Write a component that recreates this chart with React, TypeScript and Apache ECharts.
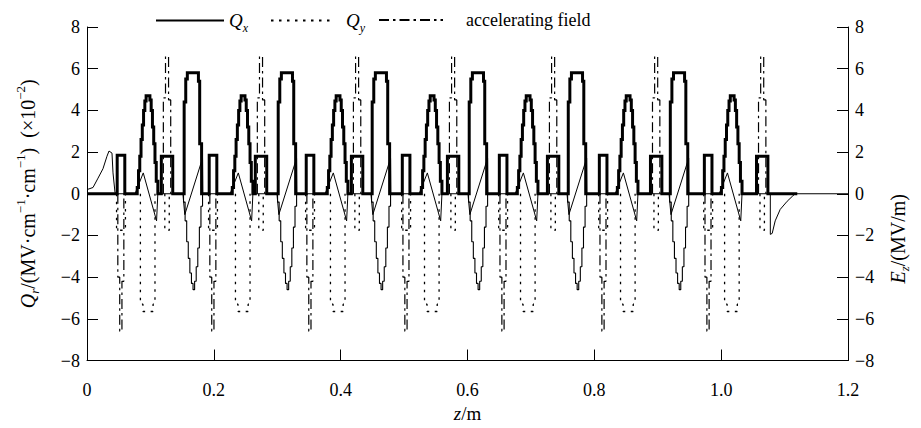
import React, { useEffect, useRef } from "react";
import * as echarts from "echarts";

const FONT = "Liberation Serif";

// axis ranges
const X_MIN = 0, X_MAX = 1.2, X_STEP = 0.2;
const Y_MIN = -8, Y_MAX = 8, Y_STEP = 2;

// centres (m) of the elements along z
const negGapZ = [0.0536, 0.1987, 0.3517, 0.5032, 0.6562, 0.8139, 0.9795];
const posGapZ = [0.1262, 0.2744, 0.4259, 0.5773, 0.735, 0.8975, 1.0647];
const bellZ = [0.0962, 0.2461, 0.3959, 0.5442, 0.6956, 0.8533, 1.0174];
const flatZ = [0.1672, 0.3155, 0.4637, 0.6167, 0.7729, 0.9338];
const qxEndZ = 1.12;

// profiles: [offset from the element centre in mm, value]
const qxBellProfile = [
  [-17, 0], [-17, 0.3], [-15, 0.3], [-15, 1.1], [-13, 1.1], [-13, 1.8], [-11, 1.8], [-11, 2.6],
  [-9, 2.6], [-9, 3.3], [-7, 3.3], [-7, 4.0], [-5, 4.0], [-5, 4.45], [-3, 4.45], [-3, 4.7],
  [3, 4.7], [3, 4.5], [5, 4.5], [5, 4.0], [7, 4.0], [7, 3.2], [9, 3.2], [9, 2.4], [11, 2.4],
  [11, 1.5], [13, 1.5], [13, 0.6], [15.5, 0.6], [15.5, 0],
];
const qxFlatProfile = [
  [-14, 0], [-14, 4.4], [-11.5, 4.4], [-11.5, 5.5], [-9, 5.5], [-9, 5.8], [8.5, 5.8], [8.5, 5.4],
  [10.5, 5.4], [10.5, 2.4], [13.5, 2.4], [13.5, 0],
];
const qxPosRectProfile = [[-9, 0], [-9, 1.8], [9, 1.8], [9, 0]];
const qxNegRectProfile = [[-6, 0], [-6, 1.85], [6, 1.85], [6, 0]];

const qyFlatProfile = [
  [-12, 0], [-12, -5.3], [-8, -5.3], [-8, -5.65], [8, -5.65], [8, -5.3], [11, -5.3], [11, 0],
];
const qyPosRectProfile = [[-3.5, 0], [-3.5, -1.75], [3.5, -1.75], [3.5, 0]];
const qyNegRectProfile = [[-7, 0], [-7, -1.75], [7, -1.75], [7, 0]];
const qyBellProfile = [
  [-15, 0], [-15, -0.4], [-12.5, -0.4], [-12.5, -1.3], [-10, -1.3], [-10, -2.3], [-7.5, -2.3],
  [-7.5, -3.1], [-5, -3.1], [-5, -3.8], [-2.5, -3.8], [-2.5, -4.3], [0, -4.3], [0, -4.6],
  [2.5, -4.6], [2.5, -4.2], [5, -4.2], [5, -3.5], [7.5, -3.5], [7.5, -2.6], [10, -2.6],
  [10, -1.6], [12.5, -1.6], [12.5, -0.6], [15, -0.6], [15, 0],
];

const ePosSpikeProfile = [
  [-5.8, 0], [-5.8, 4.6], [-2.4, 4.6], [-2.4, 6.6], [2.4, 6.6], [2.4, 4.5], [5.8, 4.5], [5.8, 0],
];
const eNegSpikeProfile = [
  [-5, 0], [-5, -4.0], [-2, -4.0], [-2, -6.6], [1.5, -6.6], [1.5, -4.2], [4.5, -4.2], [4.5, 0],
];
const eBellSideProfile = [[-20.5, 0], [-7.5, 1.0], [13.5, -1.3], [15.5, 0]];
const eFlatSideProfile = [[-16, 0], [-13, -1.0], [15, 1.7], [15.5, 0]];
// entrance and exit fringe fields: [z (m), value]
const eEntrance = [
  [0, 0.2], [0.0095, 0.3], [0.0174, 0.75], [0.0252, 1.2], [0.0315, 1.8], [0.0347, 2.05],
  [0.0394, 1.95], [0.041, 1.0], [0.0442, 0.05], [0.046, 0],
];
const eExit = [
  [1.0775, 0], [1.0775, -1.95], [1.0805, -1.9], [1.0852, -1.3], [1.0931, -0.75],
  [1.1041, -0.36], [1.112, -0.13], [1.1167, 0], [1.2, 0],
];

type Pt = [number, number | string];

function place(groups: Array<[number[], number[][]]>, gaps: boolean): Pt[] {
  const items: { c: number; p: number[][] }[] = [];
  groups.forEach(([cs, p]) => cs.forEach((c) => items.push({ c, p })));
  items.sort((a, b) => a.c - b.c);
  const out: Pt[] = [];
  items.forEach(({ c, p }) => {
    p.forEach(([d, v]) => out.push([+(c + d / 1000).toFixed(5), v]));
    if (gaps) out.push([+(c + p[p.length - 1][0] / 1000).toFixed(5), "-"]);
  });
  return out;
}

const qxData: Pt[] = [
  [0, 0],
  ...place(
    [
      [bellZ, qxBellProfile],
      [flatZ, qxFlatProfile],
      [posGapZ, qxPosRectProfile],
      [negGapZ, qxNegRectProfile],
    ],
    false
  ),
  [qxEndZ, 0],
];
const qyDotData = place(
  [
    [bellZ, qyFlatProfile],
    [posGapZ, qyPosRectProfile],
    [negGapZ, qyNegRectProfile],
  ],
  true
);
const qyBellData = place([[flatZ, qyBellProfile]], true);
const eSpikeData = place(
  [
    [posGapZ, ePosSpikeProfile],
    [negGapZ, eNegSpikeProfile],
  ],
  true
);
const eThinData: Pt[] = [
  ...(eEntrance as Pt[]),
  ...place(
    [
      [bellZ, eBellSideProfile],
      [flatZ, eFlatSideProfile],
    ],
    false
  ),
  ...(eExit as Pt[]),
];

const QX = "Qx";
const QY = "Qy";
const EF = "accelerating field";

const makeRich = (size: number, small: number) => ({
  n: { fontFamily: FONT, fontSize: size, color: "#000", lineHeight: size + 7, verticalAlign: "middle" },
  i: { fontFamily: FONT, fontSize: size, fontStyle: "italic", color: "#000", lineHeight: size + 7, verticalAlign: "middle" },
  sub: { fontFamily: FONT, fontSize: small, fontStyle: "italic", color: "#000", lineHeight: small, verticalAlign: "bottom" },
  sup: { fontFamily: FONT, fontSize: small, color: "#000", lineHeight: small, verticalAlign: "top" },
});
const rich = makeRich(19, 12);
const richTitle = makeRich(20, 13);

const fmtY = (v: number) => (v < 0 ? "\u2212" + Math.abs(v) : String(v));

const legendBase = {
  top: 6,
  itemHeight: 16,
  selectedMode: false,
  itemStyle: { color: "rgba(0,0,0,0)", borderWidth: 0, opacity: 0 },
};

export default function App() {
  const ref = useRef<HTMLDivElement>(null);
  useEffect(() => {
    if (!ref.current) return;
    const chart = echarts.init(ref.current, undefined, { renderer: "svg" });
    const axisCommon = {
      type: "value",
      min: Y_MIN,
      max: Y_MAX,
      interval: Y_STEP,
      axisLine: { show: true, lineStyle: { color: "#000", width: 1 } },
      axisTick: { show: true, inside: true, length: 11, lineStyle: { color: "#000", width: 1 } },
      axisLabel: { color: "#000", fontFamily: FONT, fontSize: 18, margin: 7, formatter: fmtY },
      splitLine: { show: false },
      nameLocation: "middle",
      nameRotate: 90,
    };
    const option: any = {
      animation: false,
      backgroundColor: "#fff",
      textStyle: { fontFamily: FONT },
      grid: { left: 87, right: 73, top: 27, bottom: 59 },
      legend: [
        {
          ...legendBase,
          data: [QX],
          left: 150,
          itemWidth: 68,
          formatter: () => "{i|Q}{sub|x}",
          textStyle: { fontFamily: FONT, rich },
        },
        {
          ...legendBase,
          data: [QY],
          left: 265,
          itemWidth: 60,
          formatter: () => "{i|Q}{sub|y}",
          textStyle: { fontFamily: FONT, rich, padding: [0, 0, 0, 10] },
        },
        {
          ...legendBase,
          data: [EF],
          left: 373,
          itemWidth: 64,
          textStyle: { fontFamily: FONT, fontSize: 18, color: "#000", padding: [0, 0, 0, 18] },
        },
      ],
      xAxis: {
        type: "value",
        min: X_MIN,
        max: X_MAX,
        interval: X_STEP,
        axisLine: { show: true, onZero: false, lineStyle: { color: "#000", width: 1 } },
        axisTick: { show: true, inside: true, length: 11, lineStyle: { color: "#000", width: 1 } },
        axisLabel: {
          color: "#000",
          fontFamily: FONT,
          fontSize: 18,
          margin: 20,
          formatter: (v: number) => (v === 0 ? "0" : v.toFixed(1)),
        },
        splitLine: { show: false },
        name: "{i|z}{n|/m}",
        nameLocation: "middle",
        nameGap: 40,
        nameTextStyle: { fontFamily: FONT, rich },
      },
      yAxis: [
        {
          ...axisCommon,
          position: "left",
          name: "{i|Q}{sub|r}{n|/(MV\u00b7cm}{sup|\u22121}{n|\u00b7cm}{sup|\u22121}{n|)  (\u00d710}{sup|\u22122}{n|)}",
          nameGap: 46,
          nameTextStyle: { fontFamily: FONT, rich: richTitle },
        },
        {
          ...axisCommon,
          position: "right",
          name: "{i|E}{sub|z}{n|/(MV/m)}",
          nameGap: 36,
          nameTextStyle: { fontFamily: FONT, rich: richTitle, padding: [0, 90, 0, 0] },
        },
      ],
      series: [
        {
          name: QX,
          type: "line",
          data: qxData,
          symbol: "none",
          z: 6,
          itemStyle: { color: "#000" },
          lineStyle: { color: "#000", width: 3, cap: "butt", join: "miter" },
        },
        {
          name: QY,
          type: "line",
          data: qyDotData,
          symbol: "none",
          connectNulls: false,
          z: 4,
          itemStyle: { color: "#000" },
          lineStyle: { color: "#000", width: 1.3, type: [2.5, 5.5], cap: "butt" },
        },
        {
          name: QY,
          type: "line",
          data: qyBellData,
          symbol: "none",
          connectNulls: false,
          z: 4,
          itemStyle: { color: "#000" },
          lineStyle: { color: "#000", width: 1.1 },
        },
        {
          name: EF,
          type: "line",
          yAxisIndex: 1,
          data: eSpikeData,
          symbol: "none",
          connectNulls: false,
          z: 3,
          itemStyle: { color: "#000" },
          lineStyle: { color: "#000", width: 1.2, type: [10, 4, 2.5, 4], cap: "butt" },
        },
        {
          name: EF,
          type: "line",
          yAxisIndex: 1,
          data: eThinData,
          symbol: "none",
          z: 3,
          itemStyle: { color: "#000" },
          lineStyle: { color: "#000", width: 1 },
        },
      ],
    };
    chart.setOption(option);
    return () => chart.dispose();
  }, []);
  return (
    <div
      ref={ref}
      style={{ position: "fixed", left: 0, top: 0, width: 921, height: 428, background: "#fff" }}
    />
  );
}
